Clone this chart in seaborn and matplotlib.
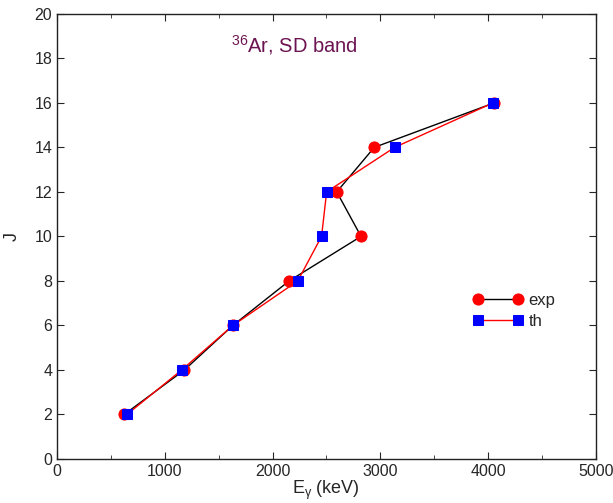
import matplotlib
matplotlib.use("Agg")
import matplotlib.pyplot as plt
import seaborn as sns
from matplotlib.ticker import MultipleLocator

# spins
J = [2, 4, 6, 8, 10, 12, 14, 16]
# gamma energies (keV)
e_exp = [624, 1182, 1632, 2154, 2821, 2596, 2944, 4057]
e_th = [649, 1157, 1632, 2234, 2455, 2502, 3133, 4046]

sns.set_style("ticks")
plt.rcParams["font.family"] = ["Liberation Sans", "DejaVu Sans"]
plt.rcParams["mathtext.fontset"] = "custom"
plt.rcParams["mathtext.rm"] = "Liberation Sans"
plt.rcParams["mathtext.it"] = "Liberation Sans:italic"

fig = plt.figure(figsize=(6.13, 5.03), dpi=100)
ax = fig.add_axes([0.093, 0.0875, 0.879, 0.885])

sns.lineplot(x=e_exp, y=J, sort=False, estimator=None, ax=ax, color="black",
             linewidth=1, marker="o", markersize=8, markerfacecolor="red",
             markeredgecolor="red", label="exp")
sns.lineplot(x=e_th, y=J, sort=False, estimator=None, ax=ax, color="red",
             linewidth=1, marker="s", markersize=7, markerfacecolor="blue",
             markeredgecolor="blue", label="th")

ax.set_xlim(0, 5000)
ax.set_ylim(0, 20)
ax.xaxis.set_major_locator(MultipleLocator(1000))
ax.xaxis.set_minor_locator(MultipleLocator(500))
ax.yaxis.set_major_locator(MultipleLocator(2))
ax.tick_params(which="both", direction="in", top=True, right=True, labelsize=11.5)
ax.tick_params(which="major", length=5)
ax.tick_params(which="minor", length=3)
for s in ax.spines.values():
    s.set_visible(True)
    s.set_color("#222222")
    s.set_linewidth(1)

ax.set_xlabel(r"E$_\mathregular{\gamma}$ (keV)", fontsize=13, labelpad=0)
ax.set_ylabel("J", fontsize=13, labelpad=10)

ax.text(0.44, 0.93, r"$^{36}$Ar, SD band", transform=ax.transAxes,
        color="#6b1451", fontsize=14.5, ha="center", va="center")

ax.legend(loc="center left", bbox_to_anchor=(0.745, 0.332), frameon=False,
          numpoints=2, fontsize=12, handlelength=3, handletextpad=0.3,
          labelspacing=0.35)

fig.savefig("out.png", dpi=100)
